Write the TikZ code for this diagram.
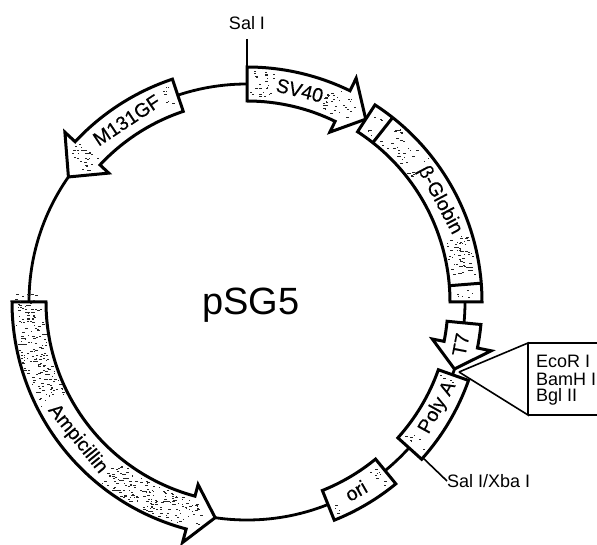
\documentclass[tikz,border=0pt]{standalone}
\usepackage{fontspec}
\setmainfont{Liberation Sans}
\newfontfamily\heavyfont[FakeBold=0.35]{Liberation Sans}
\newcommand\bandspeck[5]{%
  \foreach \i in {1,...,#5}{%
    \pgfmathsetmacro\spA{#1+rnd*(#2-#1)}%
    \pgfmathsetmacro\spR{#3+rnd*(#4-#3)}%
    \pgfmathsetmacro\spW{0.7+rnd*2.6}%
    \fill[black!85] (\spA:\spR) ++(-\spW/2,-.45) rectangle ++(\spW,.9);
  }}
\newcommand\arrowband[3]{%
  \draw[band] (#1:235) arc[start angle=#1,end angle=#2,radius=235] -- (#2:249) -- (#3:218) -- (#2:189) -- (#2:201) arc[start angle=#2,end angle=#1,radius=201] -- cycle;}
\newcommand\boxband[2]{%
  \draw[band] (#1:235) arc[start angle=#1,end angle=#2,radius=235] -- (#2:203) arc[start angle=#2,end angle=#1,radius=203] -- cycle;}
\newcommand\bandlabel[4]{\node[bandtext,rotate=#3] (#4) at (#1:218) {#2};}
\tikzset{
  band/.style={draw=black,line width=3pt,fill=white,line join=miter,miter limit=6},
  plasmid/.style={draw=black,line width=2.8pt},
  thin/.style={draw=black,line width=1.6pt},
  lab/.style={font=\fontsize{18}{18}\selectfont,inner sep=0pt,text=black},
  bandtext/.style={font=\heavyfont\fontsize{19.5}{18}\selectfont,inner sep=0pt,text=black}
}
\begin{document}
\begin{tikzpicture}[x=1pt,y=1pt]
\useasboundingbox (0,0) rectangle (597,544);
\pgfmathsetseed{7}
\begin{scope}[shift={(247,242)}]
  \draw[plasmid] (0,0) circle[radius=218];
  % thin pointers
  \coordinate (salTop) at (0,263);
  \coordinate (salBase) at (0,234);
  \draw[thin] (salTop) -- (salBase);
  \node[lab] (sal) at (0,279) {Sal I};
  \coordinate (xbaBase) at (-41.5:231);
  \node[lab,anchor=west] (xba) at (200,-179) {Sal I/Xba I};
  \draw[thin] (xbaBase) -- (xba.west);
  % bands
  \arrowband{90}{64}{57}
  \boxband{57}{0}
  \draw[band] (51.7:203) -- (51.7:235);
  \draw[band] (4.6:203) -- (4.6:235);
  \arrowband{-5.5}{-11.3}{-17.9}
  \boxband{-19.5}{-42}
  \boxband{-50.7}{-68.2}
  \arrowband{180}{255}{261.6}
  \arrowband{108.5}{137}{145}
  % stipple, kept clear of the band labels
  \bandspeck{89}{83}{205}{231}{26}
  \bandspeck{69}{65}{205}{231}{24}
  \bandspeck{64}{60}{210}{228}{10}
  \bandspeck{55.5}{53}{206}{232}{7}
  \bandspeck{50}{41}{206}{232}{30}
  \bandspeck{39}{37}{206}{232}{8}
  \bandspeck{17}{6.5}{206}{232}{60}
  \bandspeck{3}{1}{208}{230}{6}
  \bandspeck{-40.5}{-38}{207}{232}{7}
  \bandspeck{-20.5}{-21.5}{207}{232}{4}
  \bandspeck{-52}{-54}{207}{231}{10}
  \bandspeck{-66}{-67}{207}{231}{4}
  \bandspeck{178}{207}{204}{232}{185}
  \bandspeck{231}{254}{204}{232}{170}
  \bandspeck{254}{258}{208}{228}{16}
  \bandspeck{110}{112}{205}{232}{8}
  \bandspeck{136}{141}{205}{232}{30}
  % band labels
  \bandlabel{76}{SV40}{-14}{lSV}
  \bandlabel{27.8}{β-Globin}{-62}{lGlo}
  \bandlabel{-11.3}{T7}{79}{lT}
  \bandlabel{-29}{Poly A}{61}{lPoly}
  \bandlabel{-60}{ori}{30}{lOri}
  \bandlabel{219}{Ampicillin}{-51}{lAmp}
  \bandlabel{123.5}{M131GF}{33.5}{lM}
\end{scope}
\node[font=\fontsize{38}{38}\selectfont,inner sep=0pt] (name) at (251,239) {pSG5};
% callout
\coordinate (siteA) at (459,172);
\coordinate (boxTL) at (528,201);
\coordinate (boxBL) at (528,129);
\coordinate (boxTR) at (597,201);
\coordinate (boxBR) at (597,129);
\draw[thin] (siteA) -- (boxTL) -- (boxBL) -- (siteA);
\draw[thin] (boxTL) -- (boxTR);
\draw[thin] (boxBL) -- (boxBR);
\node[lab,anchor=west] (eco) at (536,183) {EcoR I};
\node[lab,anchor=west] (bam) at (536,165) {BamH I};
\node[lab,anchor=west] (bgl) at (536,147) {Bgl II};
\end{tikzpicture}
\end{document}
